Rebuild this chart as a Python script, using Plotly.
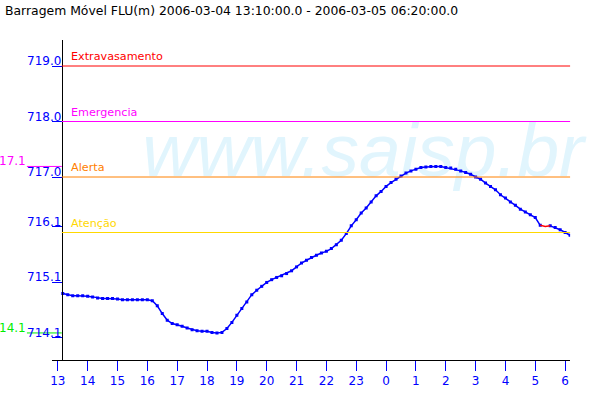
import pandas as pd
import plotly.graph_objects as go

# ---------------- data ----------------
title_text = "Barragem Móvel FLU(m) 2006-03-04 13:10:00.0 - 2006-03-05 06:20:00.0"
start_time = "2006-03-04 13:10"
level = [
    714.90, 714.88, 714.86, 714.86, 714.86, 714.85, 714.84, 714.82, 714.81, 714.81,
    714.81, 714.80, 714.79, 714.79, 714.79, 714.79, 714.79, 714.79, 714.77, 714.68,
    714.54, 714.42, 714.36, 714.34, 714.31, 714.28, 714.25, 714.23, 714.22, 714.22,
    714.20, 714.19, 714.20, 714.27, 714.38, 714.51, 714.63, 714.75, 714.88, 714.96,
    715.03, 715.10, 715.15, 715.19, 715.22, 715.26, 715.31, 715.38, 715.45, 715.50,
    715.55, 715.59, 715.63, 715.66, 715.71, 715.78, 715.86, 715.98, 716.12, 716.23,
    716.35, 716.44, 716.55, 716.66, 716.74, 716.83, 716.90, 716.96, 717.02, 717.07,
    717.11, 717.14, 717.17, 717.18, 717.19, 717.19, 717.19, 717.17, 717.16, 717.14,
    717.11, 717.08, 717.05, 717.00, 716.96, 716.89, 716.83, 716.77, 716.68, 716.62,
    716.55, 716.49, 716.42, 716.37, 716.32, 716.27, 716.13, 716.11, 716.12, 716.09,
    716.05, 716.00, 715.95,
]
gap_indices = [96, 97, 98]          # segment drawn in red (missing data)

thr_names = ["Extravasamento", "Emergencia", "Alerta", "Atenção"]
thr_values = [719.0, 718.0, 717.0, 716.0]
thr_colors = ["#ff0000", "#ff00ff", "#ff8000", "#ffd800"]

ytick_vals = [719.0, 718.0, 717.0, 716.1, 715.1, 714.1]
ytick_text = ["719.0", "718.0", "717.0", "716.1", "715.1", "714.1"]

xtick_start = "2006-03-04 13:00"
xtick_end = "2006-03-05 06:00"

watermark = "www.saisp.br"

# ---------------- figure ----------------
times = pd.date_range(start_time, periods=len(level), freq="10min")
blue_vals = [None if i == gap_indices[1] else v for i, v in enumerate(level)]
xticks = pd.date_range(xtick_start, xtick_end, freq="h")
xtick_text = [str(t.hour) for t in xticks]

FONT = "DejaVu Sans"
BLUE = "#0000ff"
W, H = 600, 400
X0, X1 = 50, 570      # x-axis domain in px
Y0, Y1 = 40, 360      # y-axis domain in px (top, bottom)

fig = go.Figure()

# watermark (drawn first, so under everything)
fig.add_trace(go.Scatter(
    x=[pd.Timestamp("2006-03-04 23:14")], y=[717.35], mode="text",
    text=[watermark], textposition="middle center",
    textfont=dict(family="Liberation Sans", size=75, color="#e1f5fd", style="italic"),
    cliponaxis=False, hoverinfo="skip", showlegend=False))

fig.add_trace(go.Scatter(
    x=times, y=blue_vals, mode="lines+markers",
    line=dict(color=BLUE, width=1.5),
    marker=dict(symbol="square", size=3, color=BLUE),
    connectgaps=False, hoverinfo="skip", showlegend=False))

fig.add_trace(go.Scatter(
    x=[times[i] for i in gap_indices], y=[level[i] for i in gap_indices],
    mode="lines", line=dict(color="#ff0000", width=1.5),
    hoverinfo="skip", showlegend=False))

shapes = []
annotations = []
for name, val, col in zip(thr_names, thr_values, thr_colors):
    shapes.append(dict(type="line", xref="paper", yref="y",
                       x0=60 / W, x1=X1 / W, y0=val, y1=val,
                       line=dict(color=col, width=1), layer="above"))
    annotations.append(dict(text=name, xref="paper", yref="y", x=67 / W, y=val,
                            xanchor="left", yanchor="bottom", showarrow=False,
                            yshift=1, font=dict(family=FONT, size=11.2, color=col)))

for v, t in zip(ytick_vals, ytick_text):
    annotations.append(dict(text=t, xref="paper", yref="y", x=60 / W, y=v,
                            xanchor="right", yanchor="bottom", showarrow=False,
                            xshift=1, yshift=-4, font=dict(family=FONT, size=12, color=BLUE)))

# max / min markers
vmax, vmin = max(level), min(level)
for v, col in [(vmax, "#ff00ff"), (vmin, "#00ee00")]:
    lab = f"{int(v * 10) / 10:.1f}"[1:]
    shapes.append(dict(type="line", xref="paper", yref="y", x0=25 / W, x1=60 / W,
                       y0=v, y1=v, line=dict(color=col, width=1)))
    annotations.append(dict(text=lab, xref="paper", yref="y", x=26 / W, y=v,
                            xanchor="right", yanchor="bottom", showarrow=False,
                            yshift=-4, font=dict(family=FONT, size=12, color=col)))

y_top = 717.0 + (177 - Y0) / 55.5
y_bot = 717.0 - (Y1 - 177) / 55.5

fig.update_layout(
    width=W, height=H, autosize=False,
    margin=dict(l=0, r=0, t=0, b=0, pad=0),
    paper_bgcolor="white", plot_bgcolor="white",
    title=dict(text=title_text, x=5 / W, xanchor="left", xref="container",
               y=1 - 11 / H, yanchor="middle", yref="container",
               font=dict(family=FONT, size=12.4, color="black")),
    xaxis=dict(type="date", domain=[X0 / W, X1 / W],
               range=["2006-03-04 12:48", "2006-03-05 06:10"],
               tickmode="array", tickvals=list(xticks), ticktext=xtick_text,
               ticks="outside", ticklen=10, tickcolor=BLUE, tickwidth=1,
               tickfont=dict(family=FONT, size=12, color=BLUE),
               showline=True, linecolor="black", linewidth=1,
               showgrid=False, zeroline=False, anchor="y", fixedrange=True),
    yaxis=dict(domain=[1 - Y1 / H, 1 - Y0 / H], range=[y_bot, y_top],
               anchor="free", position=60 / W,
               tickmode="array", tickvals=ytick_vals, showticklabels=False,
               ticks="outside", ticklen=10, tickcolor=BLUE, tickwidth=1,
               showline=True, linecolor="black", linewidth=1,
               showgrid=False, zeroline=False, fixedrange=True),
    shapes=shapes, annotations=annotations, showlegend=False,
)

fig.write_html("out.html", config={"displayModeBar": False},
               post_script="document.body.style.margin='0';document.body.style.padding='0';")
